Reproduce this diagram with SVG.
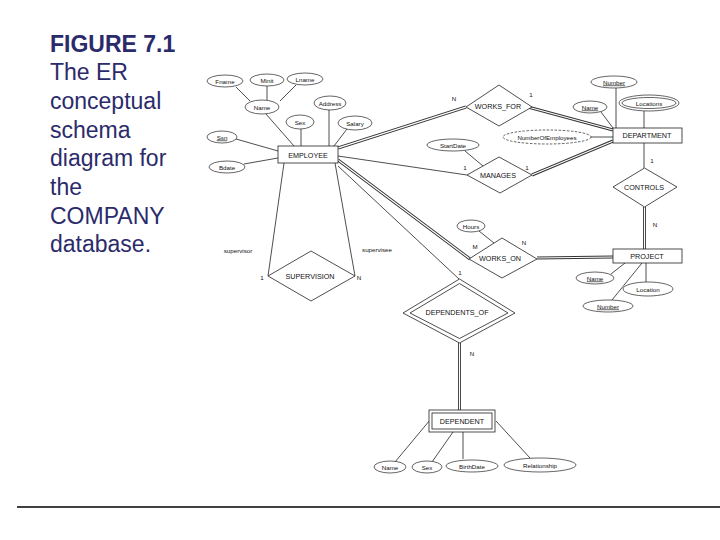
<svg xmlns="http://www.w3.org/2000/svg" width="720" height="540" viewBox="0 0 720 540">
<style>
.ln{stroke:#222;stroke-width:0.8;fill:none}
.dbo{stroke:#333;stroke-width:3;fill:none}
.dbi{stroke:#fff;stroke-width:1.2;fill:none}
.box{fill:#fff;stroke:#222;stroke-width:0.8}
.att{fill:#fff;stroke:#222;stroke-width:0.7}
.der{fill:#fff;stroke:#222;stroke-width:0.7;stroke-dasharray:2.5 1.5}
.te{font-family:"Liberation Sans",Arial,sans-serif;font-size:7.2px;fill:#111;text-anchor:middle;dominant-baseline:central}
.ta{font-family:"Liberation Sans",Arial,sans-serif;font-size:6.2px;fill:#111;text-anchor:middle;dominant-baseline:central}
.tk{text-decoration:underline}
.cap{font-family:"Liberation Sans",Arial,sans-serif;font-size:23px;fill:#2b2b6b}
</style>
<rect width="720" height="540" fill="#fff"/>
<g id="caption">
<text class="cap" x="50" y="51.5" font-weight="bold">FIGURE 7.1</text>
<text class="cap" x="50" y="80.2">The ER</text>
<text class="cap" x="50" y="108.9">conceptual</text>
<text class="cap" x="50" y="137.6">schema</text>
<text class="cap" x="50" y="166.3">diagram for</text>
<text class="cap" x="50" y="195">the</text>
<text class="cap" x="50" y="223.7">COMPANY</text>
<text class="cap" x="50" y="252.4">database.</text>
</g>
<line x1="17" y1="507" x2="720" y2="507" stroke="#000" stroke-width="1.6"/>
<g id="connectors">
<path class="ln" d="M236,87 L250,101 M267,86 L267,100 M296,85 L280,101 M266,114 L294,146 M329,110 L329,146 M301,129 L301,146 M347,129 L334,146 M236,139 L278,151 M244,164 L278,158 M284,163 L268,276 M335,163 L355,276 M338,156 L467,175 M465,151 L483,166 M338,166 L459,279 M479,231 L494,243 M616,88 L616,128 M644,111 L644,128 M601,112 L613,128 M591,137 L613,137 M644,143 L644,168 M611,274 L625,263 M646,263 L646,282 M612,300 L642,263 M395,462 L430,420 M432,462 L453,432 M463,432 L463,459 M496,421 L530,458"/>
<path class="dbo" d="M338,148 L466,107 M528,107 L613,130 M532,175 L613,141 M644.5,207 L644.5,249 M338,160 L470,259 M537,258 L613,257 M459.5,343 L459.5,410"/>
<path class="dbi" d="M336,148.6 L468,106.4 M526,106.5 L615,130.5 M530,175.8 L615,140.2 M644.5,205 L644.5,251 M336,158.5 L472,260.5 M535,258 L615,257 M459.5,341 L459.5,412"/>
</g>
<g id="labels">
<text class="ta" x="454" y="98">N</text>
<text class="ta" x="531" y="94">1</text>
<text class="ta" x="465" y="167">1</text>
<text class="ta" x="527" y="167">1</text>
<text class="ta" x="652" y="160">1</text>
<text class="ta" x="655" y="224">N</text>
<text class="ta" x="475" y="246">M</text>
<text class="ta" x="524" y="242">N</text>
<text class="ta" x="460" y="272">1</text>
<text class="ta" x="472" y="353">N</text>
<text class="ta" x="238" y="250">supervisor</text>
<text class="ta" x="377" y="249">supervisee</text>
<text class="ta" x="262" y="277">1</text>
<text class="ta" x="359" y="277">N</text>
</g>
<g id="EMPLOYEE"><rect class="box" x="278" y="146" width="60" height="17"/><text class="te" x="308" y="155">EMPLOYEE</text></g>
<g id="Fname"><ellipse class="att" cx="225" cy="81" rx="18" ry="6"/><text class="ta" x="225" y="81">Fname</text></g>
<g id="Minit"><ellipse class="att" cx="267" cy="80" rx="17" ry="6"/><text class="ta" x="267" y="80">Minit</text></g>
<g id="Lname"><ellipse class="att" cx="305" cy="79" rx="18" ry="6"/><text class="ta" x="305" y="79">Lname</text></g>
<g id="EmpName"><ellipse class="att" cx="262" cy="107" rx="17" ry="7"/><text class="ta" x="262" y="107">Name</text></g>
<g id="Address"><ellipse class="att" cx="330" cy="103" rx="16" ry="7"/><text class="ta" x="330" y="103">Address</text></g>
<g id="EmpSex"><ellipse class="att" cx="300" cy="122" rx="14" ry="7"/><text class="ta" x="300" y="122">Sex</text></g>
<g id="Salary"><ellipse class="att" cx="355" cy="123" rx="17" ry="7"/><text class="ta" x="355" y="123">Salary</text></g>
<g id="Ssn"><ellipse class="att" cx="222" cy="137" rx="15" ry="6"/><text class="ta tk" x="222" y="137">Ssn</text></g>
<g id="Bdate"><ellipse class="att" cx="227" cy="167" rx="18" ry="6"/><text class="ta" x="227" y="167">Bdate</text></g>
<g id="WORKS_FOR"><polygon class="box" points="466,107 499,85 532,107 499,126"/><text class="te" x="498" y="106">WORKS_FOR</text></g>
<g id="DEPARTMENT"><rect class="box" x="613" y="128" width="69" height="15"/><text class="te" x="647" y="135.5">DEPARTMENT</text></g>
<g id="DeptNumber"><ellipse class="att" cx="614" cy="82" rx="23" ry="6"/><text class="ta tk" x="614" y="82">Number</text></g>
<g id="Locations"><ellipse class="att" cx="649" cy="103" rx="30" ry="8"/><ellipse class="att" cx="649" cy="103" rx="27" ry="5.5"/><text class="ta" x="649" y="103">Locations</text></g>
<g id="DeptName"><ellipse class="att" cx="590" cy="107" rx="17" ry="6"/><text class="ta tk" x="590" y="107">Name</text></g>
<g id="NumberOfEmployees"><ellipse class="der" cx="547" cy="137" rx="44" ry="7"/><text class="ta" x="547" y="137">NumberOfEmployees</text></g>
<g id="MANAGES"><polygon class="box" points="467,175 499,157 532,175 500,193"/><text class="te" x="498" y="175">MANAGES</text></g>
<g id="StartDate"><ellipse class="att" cx="453" cy="145" rx="26" ry="6"/><text class="ta" x="453" y="145">StartDate</text></g>
<g id="CONTROLS"><polygon class="box" points="613,187 644.5,168 677,187 644.5,207"/><text class="te" x="644" y="187">CONTROLS</text></g>
<g id="PROJECT"><rect class="box" x="613" y="249" width="69" height="14"/><text class="te" x="647" y="256">PROJECT</text></g>
<g id="ProjName"><ellipse class="att" cx="595" cy="278" rx="19" ry="6"/><text class="ta tk" x="595" y="278">Name</text></g>
<g id="Location"><ellipse class="att" cx="648" cy="289" rx="25" ry="7"/><text class="ta" x="648" y="289">Location</text></g>
<g id="ProjNumber"><ellipse class="att" cx="608" cy="306" rx="25" ry="6"/><text class="ta tk" x="608" y="306">Number</text></g>
<g id="WORKS_ON"><polygon class="box" points="469,259 502,238 537,259 502,278"/><text class="te" x="500" y="258">WORKS_ON</text></g>
<g id="Hours"><ellipse class="att" cx="471" cy="226" rx="14" ry="6"/><text class="ta" x="471" y="226">Hours</text></g>
<g id="SUPERVISION"><polygon class="box" points="268,276 311,251 355,276 311,301"/><text class="te" x="310" y="276">SUPERVISION</text></g>
<g id="DEPENDENTS_OF"><polygon class="box" points="403,313 459.5,279 515,313 459.5,343"/><polygon class="box" points="410,313 459.5,283.5 508,313 459.5,338.5"/><text class="te" x="457" y="312">DEPENDENTS_OF</text></g>
<g id="DEPENDENT"><rect class="box" x="429" y="410" width="66" height="22"/><rect class="box" x="432" y="413" width="60" height="16"/><text class="te" x="462" y="421">DEPENDENT</text></g>
<g id="DepName"><ellipse class="att" cx="390" cy="467" rx="16" ry="6"/><text class="ta" x="390" y="467">Name</text></g>
<g id="DepSex"><ellipse class="att" cx="427" cy="467" rx="15" ry="6"/><text class="ta" x="427" y="467">Sex</text></g>
<g id="BirthDate"><ellipse class="att" cx="472" cy="466" rx="26" ry="6"/><text class="ta" x="472" y="466">BirthDate</text></g>
<g id="Relationship"><ellipse class="att" cx="540" cy="465" rx="36" ry="7"/><text class="ta" x="540" y="465">Relationship</text></g>
</svg>
